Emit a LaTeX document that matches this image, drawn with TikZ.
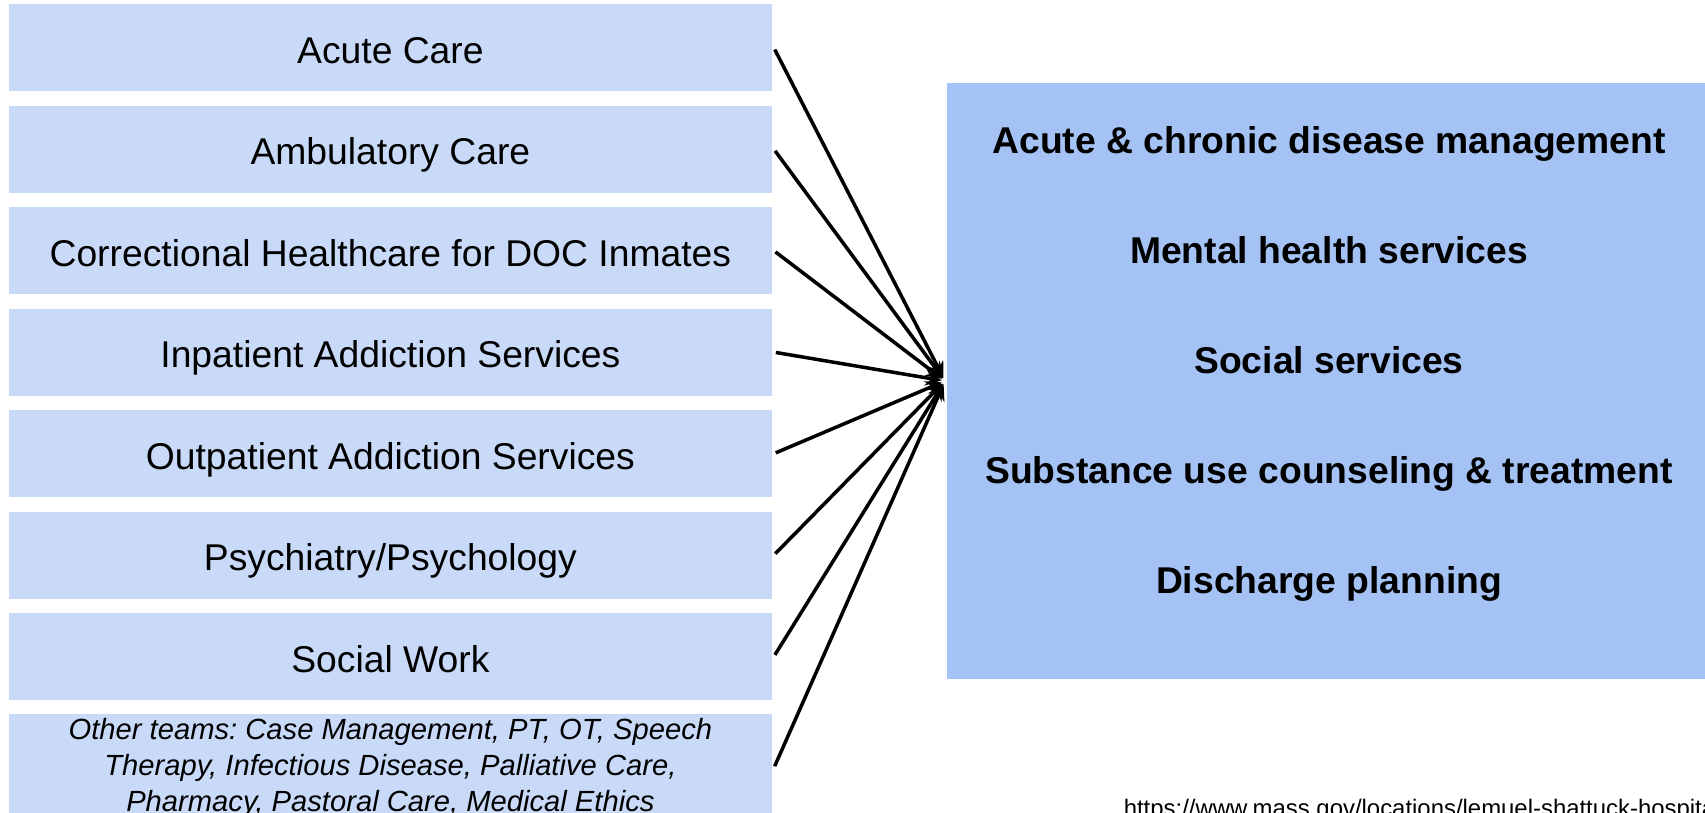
\documentclass[tikz,border=0pt]{standalone}
\usepackage{fontspec}
\setmainfont{Liberation Sans}
\usepackage[dvipsnames]{xcolor}
\definecolor{teamblue}{HTML}{C9DAF8}
\definecolor{serviceblue}{HTML}{A4C2F4}
\usetikzlibrary{positioning}
\frenchspacing

\begin{document}
\begin{tikzpicture}[x=0.01cm,y=-0.01cm,>=stealth,shorten >=1pt,node distance=1.014cm,line width=1pt,
  team node/.style={fill=teamblue,minimum width=7.63cm,minimum height=0.87cm,inner sep=0pt,text height=9.4pt,text depth=0.6pt,font=\fontsize{10.6}{12.7}\selectfont},
  service node/.style={inner sep=0pt,text height=1.5ex,text depth=.4ex,font=\bfseries\fontsize{10.6}{12.7}\selectfont}]

            \useasboundingbox (0,0) rectangle (1705,813);
            \clip (0,0) rectangle (1705,813);

            \node[team node] (0) at (390.4,47.8) {Acute Care};
            \node[team node] (1) [below of = 0] {Ambulatory Care};
            \node[team node] (2) [below of = 1] {Correctional Healthcare for DOC Inmates};
            \node[team node] (3) [below of = 2] {Inpatient Addiction Services};
            \node[team node] (4) [below of = 3] {Outpatient Addiction Services};
            \node[team node] (5) [below of = 4] {Psychiatry/Psychology};
            \node[team node] (6) [below of = 5] {Social Work};
            \node[team node,minimum height=1.07cm,yshift=-0.1cm,text height=,text depth=,align=center,font=\itshape\fontsize{8.3}{10.2}\selectfont] (7) [below of = 6]
                {Other teams: Case Management, PT, OT, Speech\\Therapy, Infectious Disease, Palliative Care,\\Pharmacy, Pastoral Care, Medical Ethics};

            \node[fill=serviceblue,minimum width=7.65cm,minimum height=5.96cm,inner sep=0pt] (S) at (1329.5,381) {};

            \begin{scope}[node distance=1.1cm]
            \node[service node] (s0) at (1329,143.5) {Acute \& chronic disease management};
            \node[service node] (s1) [below of = s0] {Mental health services};
            \node[service node] (s2) [below of = s1] {Social services};
            \node[service node] (s3) [below of = s2] {Substance use counseling \& treatment};
            \node[service node] (s4) [below of = s3] {Discharge planning};
            \end{scope}

            \node[anchor=base west,inner sep=0pt,font=\fontsize{6.8}{8}\selectfont] (url) at (1122,817)
                {https://www.mass.gov/locations/lemuel-shattuck-hospital};

            \foreach \i in {0,...,7}
                \draw[->,shorten <=0.02cm] (\i.east) -- (S.west);
        \end{tikzpicture}
\end{document}
